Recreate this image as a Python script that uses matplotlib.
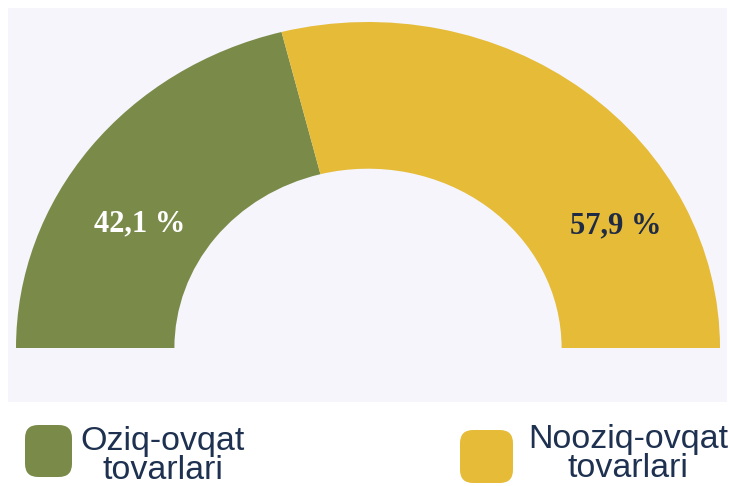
"""
Half-donut chart: share of food vs non-food goods.
"""
import matplotlib
matplotlib.use("Agg")
import matplotlib.pyplot as plt
from matplotlib.patches import Rectangle, FancyBboxPatch

# data
categories = ["Oziq-ovqat\ntovarlari", "Nooziq-ovqat\ntovarlari"]
shares = [42.1, 57.9]
value_labels = ["42,1 %", "57,9 %"]

GREEN = "#7a8b49"
YELLOW = "#e5bb37"
PANEL = "#f5f5fb"
NAVY = "#1e3150"

W, H = 730, 486
fig = plt.figure(figsize=(W / 100, H / 100), dpi=100, facecolor="white")

def fx(px):
    return px / W

def fy(py):
    # py measured from the top of the picture
    return 1 - py / H

# lavender panel behind the chart
fig.add_artist(Rectangle((fx(8), fy(402)), fx(719), 394 / H, transform=fig.transFigure,
                         facecolor=PANEL, edgecolor="none", zorder=-1))

ax = fig.add_axes([fx(8), fy(402), fx(719), 391 / H])

# full circle = shares + an invisible lower half
wedges, _ = ax.pie(shares + [sum(shares)], startangle=180, counterclock=False,
                   colors=[GREEN, YELLOW, "none"],
                   wedgeprops=dict(width=0.45, edgecolor="none"))
ax.set_aspect("auto")
# stretch the half ring a bit horizontally like the original
cx, cy, rx, ry = 368, 348, 352, 326
ax.set_xlim((8 - cx) / rx, (727 - cx) / rx)
ax.set_ylim((cy - 402) / ry, (cy - 11) / ry)
ax.set_axis_off()

ax.text(-0.65, 0.38, value_labels[0], color="white", fontsize=22, fontweight="bold",
        family="Liberation Serif", ha="center", va="center")
ax.text(0.705, 0.375, value_labels[1], color="#1f2a44", fontsize=22, fontweight="bold",
        family="Liberation Serif", ha="center", va="center")

# legend drawn by hand: rounded squares + two-line centred labels
legend_items = [
    (GREEN, 25, 425, 47, 52, 163, 456),
    (YELLOW, 460, 430, 53, 53, 628, 454),
]
for (col, x0, y0, w, h, tx, ty), name in zip(legend_items, categories):
    fig.add_artist(FancyBboxPatch((fx(x0), fy(y0 + h)), fx(w), h / H,
                                  boxstyle="round,pad=0,rounding_size=0.018",
                                  transform=fig.transFigure, facecolor=col,
                                  edgecolor="none", mutation_aspect=W / H))
    fig.text(fx(tx), fy(ty), name, color=NAVY, fontsize=24.5, family="Liberation Sans",
             ha="center", va="center", multialignment="center", linespacing=0.95)

fig.savefig("out.png", dpi=100, facecolor="white")
